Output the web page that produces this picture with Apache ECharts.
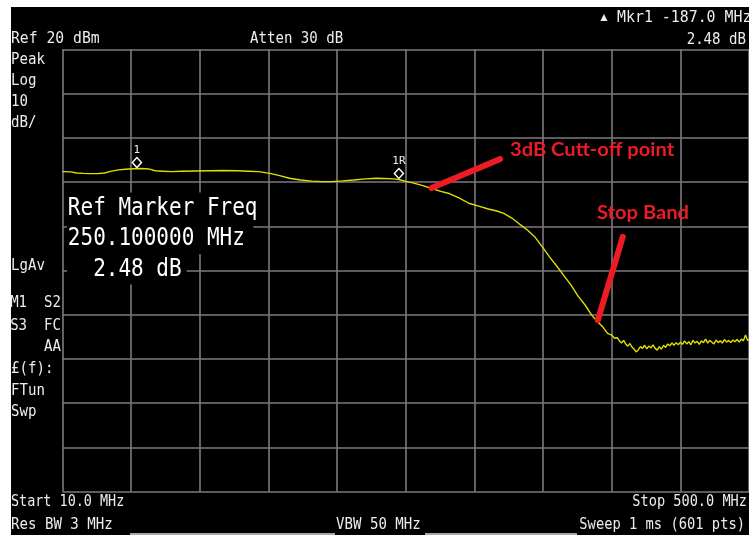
<!DOCTYPE html>
<html>
<head>
<meta charset="utf-8">
<script src="https://cdn.jsdelivr.net/npm/echarts@6/dist/echarts.min.js"></script>
<style>
  html, body { margin: 0; padding: 0; background: #fff; }
  #chart {
    width: 749px; height: 535px;
    background: linear-gradient(#000, #000) 11px 7px / 738px 528px no-repeat, #fff;
  }
</style>
</head>
<body>
<div id="chart"></div>
<script>
// Low-pass filter response, swept 10–500 MHz, 10 dB/div, ref 20 dBm

// Passband and roll-off (MHz, dBm)
const passFreqMHz = [10, 16, 20, 25, 30, 35, 40, 45, 50, 55,
  63.1, 70, 73, 76, 82, 88, 95, 105, 115, 125,
  135, 143, 150, 158, 165, 172, 180, 188, 195, 202,
  210, 218, 226, 234, 240, 246, 250.1, 255, 260, 266,
  273, 280, 286, 293, 300, 307, 314, 320, 325, 331,
  337, 342, 347, 353, 358, 364, 368, 373, 378, 383,
  388, 392, 396, 399, 402, 404];
const passLevelDbm = [-7.66, -7.70, -7.95, -8.05, -8.10, -8.10, -7.95, -7.55, -7.25, -7.10,
  -6.95, -7.00, -7.15, -7.45, -7.55, -7.65, -7.55, -7.50, -7.45, -7.40,
  -7.45, -7.55, -7.65, -8.05, -8.55, -9.15, -9.55, -9.80, -9.90, -9.90,
  -9.75, -9.55, -9.30, -9.15, -9.20, -9.30, -9.43, -9.85, -10.20, -10.70,
  -11.40, -12.10, -12.60, -13.60, -14.80, -15.45, -16.10, -16.55, -17.10, -18.20,
  -19.70, -20.90, -22.35, -24.90, -27.10, -29.50, -31.20, -33.30, -35.80, -37.80,
  -40.20, -41.60, -42.90, -44.20, -44.60, -45.30];

// Stop band floor (MHz, dBm)
const stopFreqMHz = [406, 407.5, 409, 410.5, 412, 413.5, 415, 416.5, 418, 419.5,
  421, 422.5, 424, 425.5, 427, 428.5, 430, 431.5, 433, 434.5,
  436, 437.5, 439, 440.5, 442, 443.5, 445, 446.5, 448, 449.5,
  451, 452.5, 454, 455.5, 457, 458.5, 460, 461.5, 463, 464.5,
  466, 467.5, 469, 470.5, 472, 473.5, 475, 476.5, 478, 479.5,
  481, 482.5, 484, 485.5, 487, 488.5, 490, 491.5, 493, 494.5,
  496, 497.5, 499, 500];
const stopLevelDbm = [-45.2, -45.9, -46.4, -45.8, -46.6, -47.1, -46.5, -47.3, -47.8, -48.4,
  -47.9, -47.2, -47.6, -46.9, -47.7, -47.1, -47.5, -46.8, -47.6, -48.0,
  -47.2, -47.8, -46.9, -47.4, -46.6, -47.0, -46.4, -46.9, -46.3, -46.8,
  -46.2, -46.7, -45.9, -46.6, -46.1, -46.8, -45.8, -46.4, -46.0, -46.7,
  -45.9, -46.3, -45.5, -46.4, -45.8, -46.2, -46.6, -45.7, -46.3, -45.9,
  -46.4, -45.6, -46.2, -45.8, -46.3, -45.7, -46.1, -45.6, -46.2, -45.5,
  -45.9, -44.6, -45.8, -45.6];

// Sweep / display settings
const startMHz = 10;
const stopMHz = 500;
const refLevelDbm = 20;
const dbPerDiv = 10;
const divisions = 10;

// Markers
const mkr1MHz = 63.1;
const refMarkerMHz = 250.1;

// Hand-drawn callouts, endpoints in (MHz, dBm)
const cutoffArrow = [[322.4, -4.8], [273.4, -11.35]];
const stopArrow = [[409.9, -22.4], [392.1, -41.2]];

const freqs = passFreqMHz.concat(stopFreqMHz);
const levels = passLevelDbm.concat(stopLevelDbm);
const trace = freqs.map((f, i) => [f, levels[i]]);
const levelAt = f => levels[freqs.indexOf(f)];

const mkr1Level = levelAt(mkr1MHz);
const refLevel = levelAt(refMarkerMHz);
const deltaDb = (mkr1Level - refLevel).toFixed(2);
const deltaMHz = (mkr1MHz - refMarkerMHz).toFixed(1);

const MONO = '"DejaVu Sans Mono", "Liberation Mono", monospace';
const FG = '#ededed';
const RED = '#ec1c24';
const GRIDC = '#7c7880';

function label(x, y, text, opt) {
  opt = opt || {};
  return {
    type: 'text', x: x, y: y, z: 50,
    scaleX: opt.scaleX || 0.88,
    silent: true,
    style: Object.assign({
      text: text,
      fill: FG,
      fontFamily: MONO,
      fontSize: 16,
      align: opt.align || 'left',
      verticalAlign: 'middle'
    }, opt.style || {})
  };
}

function bigLabel(y, text, padRight) {
  return {
    type: 'text', x: 67, y: y, z: 60, scaleX: 0.84, silent: true,
    style: {
      text: text, fill: '#ffffff', fontFamily: MONO, fontSize: 25,
      align: 'left', verticalAlign: 'middle', lineHeight: 31,
      backgroundColor: '#000', padding: [0, padRight, 0, 1]
    }
  };
}

function callout(x, y, text) {
  return {
    type: 'text', x: x, y: y, z: 50, scaleX: 1.06, silent: true,
    style: { text: text, fill: RED, fontFamily: 'Lato', fontWeight: 'bold', fontSize: 19, align: 'left', verticalAlign: 'middle' }
  };
}

const chart = echarts.init(document.getElementById('chart'), null, { width: 749, height: 535 });

chart.setOption({
  animation: false,
  backgroundColor: 'transparent',
  grid: { left: 62.5, top: 49.3, width: 689, height: 442.4, show: false },
  xAxis: [
    {
      type: 'value', min: startMHz, max: stopMHz,
      axisLine: { show: false }, axisTick: { show: false },
      axisLabel: { show: false }, splitLine: { show: false }
    },
    {
      // graticule columns
      type: 'value', min: 0, max: divisions, interval: 1, position: 'top',
      axisLine: { show: false }, axisTick: { show: false },
      axisLabel: { show: false },
      splitLine: { show: true, showMinLine: true, showMaxLine: true, lineStyle: { color: GRIDC, width: 1.6 } }
    }
  ],
  yAxis: {
    type: 'value',
    min: refLevelDbm - dbPerDiv * divisions, max: refLevelDbm, interval: dbPerDiv,
    axisLine: { show: false }, axisTick: { show: false },
    axisLabel: { show: false },
    splitLine: { show: true, showMinLine: true, showMaxLine: true, lineStyle: { color: GRIDC, width: 1.6 } }
  },
  series: [
    {
      type: 'line',
      xAxisIndex: 0,
      data: trace,
      showSymbol: false,
      smooth: false,
      lineStyle: { color: '#dede00', width: 1.4 },
      z: 5,
      markPoint: {
        silent: true,
        data: [
          {
            coord: [mkr1MHz, mkr1Level], symbol: 'diamond', symbolSize: [9, 10], symbolOffset: [0, -6],
            itemStyle: { color: '#000', borderColor: '#ffffff', borderWidth: 1.5 },
            label: { show: true, position: 'top', distance: 1, formatter: '1', color: FG, fontFamily: MONO, fontSize: 11 }
          },
          {
            coord: [refMarkerMHz, refLevel], symbol: 'diamond', symbolSize: [9, 10], symbolOffset: [0, -6],
            itemStyle: { color: '#000', borderColor: '#ffffff', borderWidth: 1.5 },
            label: { show: true, position: 'top', distance: 1, formatter: '1R', color: FG, fontFamily: MONO, fontSize: 11 }
          }
        ]
      },
      markLine: {
        silent: true,
        symbol: ['none', 'none'],
        label: { show: false },
        lineStyle: { color: RED, width: 6, type: 'solid', cap: 'round' },
        z: 10,
        data: [
          [{ coord: cutoffArrow[0] }, { coord: cutoffArrow[1] }],
          [{ coord: stopArrow[0] }, { coord: stopArrow[1] }]
        ]
      }
    }
  ],
  graphic: [
    // header
    label(11, 39, 'Ref 20 dBm', { scaleX: 0.92 }),
    label(250, 39, 'Atten 30 dB'),
    label(617, 18, 'Mkr1 ' + deltaMHz + ' MHz', { scaleX: 0.93 }),
    { type: 'text', x: 604, y: 18, z: 50, silent: true,
      style: { text: '▲', fill: FG, fontSize: 12, align: 'center', verticalAlign: 'middle' } },
    label(746, 40, deltaDb + ' dB', { align: 'right' }),
    // left annunciators
    label(11, 60, 'Peak'),
    label(11, 81, 'Log'),
    label(11, 102, '10'),
    label(11, 123, 'dB/'),
    label(11, 266, 'LgAv'),
    label(61, 303, 'M1  S2', { align: 'right' }),
    label(61, 326, 'S3  FC', { align: 'right' }),
    label(61, 347, 'AA', { align: 'right' }),
    label(11, 369, '£(f):'),
    label(11, 391, 'FTun'),
    label(11, 412, 'Swp'),
    // footer
    label(11, 502, 'Start ' + startMHz.toFixed(1) + ' MHz', { scaleX: 0.84 }),
    label(747, 502, 'Stop ' + stopMHz.toFixed(1) + ' MHz', { align: 'right', scaleX: 0.85 }),
    label(11, 525, 'Res BW 3 MHz'),
    label(336, 525, 'VBW 50 MHz'),
    label(745, 525, 'Sweep 1 ms (601 pts)', { align: 'right', scaleX: 0.86 }),
    { type: 'line', silent: true, z: 50, shape: { x1: 130, y1: 534, x2: 335, y2: 534 }, style: { stroke: '#e6dbe6', lineWidth: 1.5 } },
    { type: 'line', silent: true, z: 50, shape: { x1: 425, y1: 534, x2: 577, y2: 534 }, style: { stroke: '#e6dbe6', lineWidth: 1.5 } },
    // reference marker readout
    bigLabel(208, 'Ref Marker Freq', 2),
    bigLabel(238.5, refMarkerMHz.toFixed(6) + ' MHz', 10),
    bigLabel(269, '  ' + deltaDb + ' dB', 6),
    // callout text
    callout(510, 149.5, '3dB Cutt-off point'),
    callout(597, 212.5, 'Stop Band')
  ]
});
</script>
</body>
</html>
